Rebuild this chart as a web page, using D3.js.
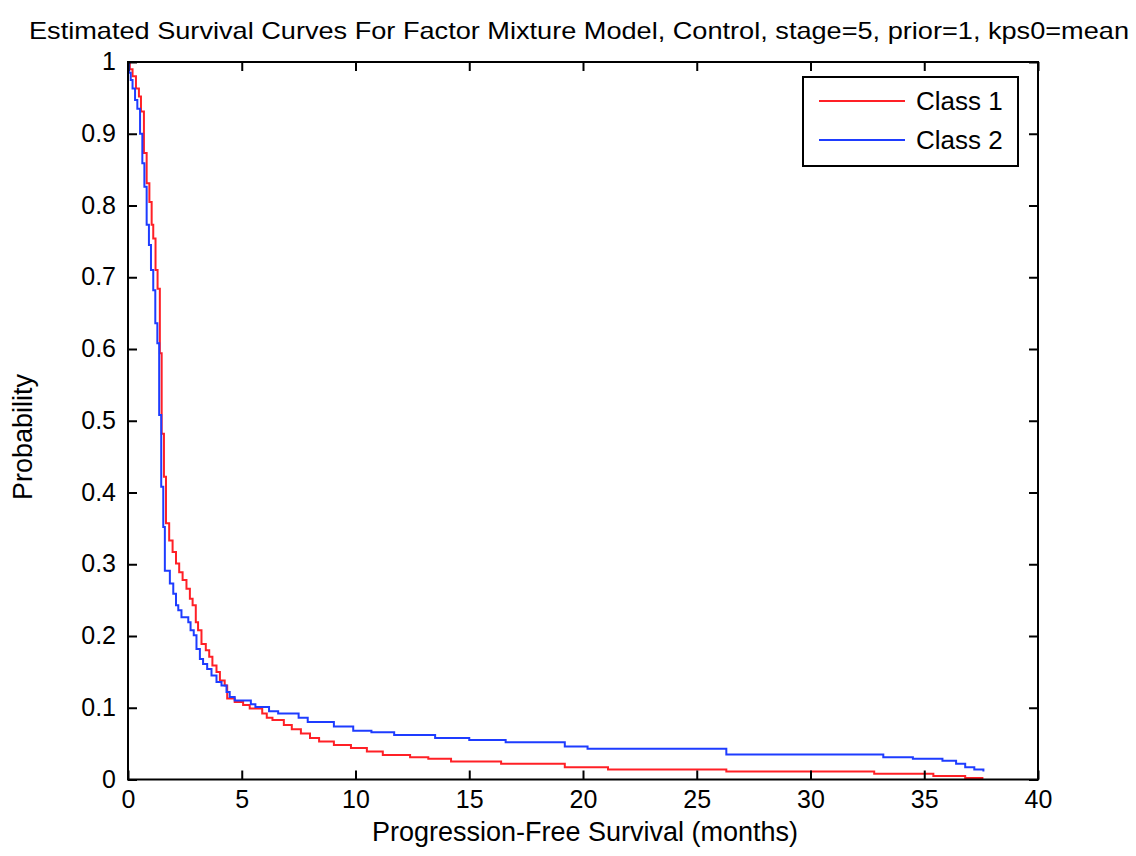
<!DOCTYPE html>
<html>
<head>
<meta charset="utf-8">
<script src="https://cdn.jsdelivr.net/npm/d3@7"></script>
<style>
  body { margin: 0; background: #fff; }
  text { font-family: "Liberation Sans", Arial, sans-serif; fill: #000; }
</style>
</head>
<body>
<script>
// data (months, probability)
var class1 = [
  [0,1],[0.08,0.99],[0.2,0.98],[0.35,0.963],[0.48,0.952],[0.57,0.931],[0.70,0.873],
  [0.82,0.831],[0.94,0.805],[1.04,0.773],[1.11,0.754],[1.21,0.71],[1.30,0.684],
  [1.40,0.594],[1.48,0.482],[1.58,0.422],[1.67,0.357],[1.81,0.333],[1.96,0.317],
  [2.11,0.301],[2.25,0.289],[2.40,0.278],[2.57,0.266],[2.72,0.252],[2.84,0.243],
  [2.98,0.219],[3.08,0.208],[3.23,0.189],[3.42,0.18],[3.57,0.171],[3.71,0.159],
  [3.89,0.15],[4.04,0.138],[4.25,0.131],[4.36,0.113],[4.69,0.108],[5.06,0.104],
  [5.35,0.099],[5.9,0.092],[6.1,0.086],[6.35,0.083],[6.85,0.076],[7.2,0.07],
  [7.6,0.064],[8.0,0.058],[8.4,0.053],[9.05,0.048],[9.8,0.044],[10.5,0.039],
  [11.2,0.034],[12.4,0.031],[13.2,0.029],[14.2,0.025],[16.4,0.022],[19.2,0.017],
  [21.1,0.014],[26.3,0.011],[32.8,0.008],[35.4,0.005],[36.8,0.002],[37.6,0.002]
];
var class2 = [
  [0,1],[0.05,0.985],[0.12,0.975],[0.2,0.963],[0.31,0.947],[0.41,0.935],[0.53,0.90],
  [0.63,0.859],[0.72,0.826],[0.82,0.773],[0.92,0.745],[1.01,0.71],[1.11,0.682],
  [1.20,0.636],[1.29,0.608],[1.37,0.508],[1.46,0.408],[1.55,0.352],[1.62,0.291],
  [1.84,0.273],[1.99,0.259],[2.11,0.243],[2.21,0.236],[2.35,0.226],[2.65,0.219],
  [2.75,0.208],[2.89,0.201],[3.01,0.182],[3.16,0.168],[3.30,0.161],[3.48,0.154],
  [3.67,0.145],[3.89,0.136],[4.11,0.131],[4.33,0.122],[4.47,0.115],[4.69,0.110],
  [5.4,0.105],[5.6,0.101],[6.2,0.095],[6.6,0.092],[7.5,0.086],[7.9,0.080],
  [9.05,0.074],[9.9,0.068],[10.7,0.066],[11.7,0.062],[13.5,0.058],[15.0,0.055],
  [16.6,0.052],[19.2,0.046],[20.2,0.043],[26.3,0.035],[33.2,0.031],[34.5,0.029],
  [35.8,0.026],[36.4,0.022],[36.8,0.017],[37.2,0.014],[37.6,0.011]
];
var seriesNames = ["Class 1", "Class 2"];
var xTicks = [0, 5, 10, 15, 20, 25, 30, 35, 40];
var yTicks = [0, 0.1, 0.2, 0.3, 0.4, 0.5, 0.6, 0.7, 0.8, 0.9, 1];
var titleText = "Estimated Survival Curves For Factor Mixture Model, Control, stage=5, prior=1, kps0=mean";

// layout
var outWidth = 1136, outHeight = 856;
var margin = {top: 62, right: 98, bottom: 76.5, left: 128},
    width = outWidth - margin.left - margin.right,
    height = outHeight - margin.top - margin.bottom;
var colors = ["#ff2026", "#1e3cff"];

var xScale = d3.scaleLinear().domain([0, 40]).range([0, width]);
var yScale = d3.scaleLinear().domain([0, 1]).range([height, 0]);

var svg = d3.select("body").append("svg")
    .attr("width", outWidth)
    .attr("height", outHeight);

svg.append("text")
    .attr("x", 579)
    .attr("y", 39)
    .attr("text-anchor", "middle")
    .attr("textLength", 1100)
    .attr("lengthAdjust", "spacingAndGlyphs")
    .style("font-size", "24px")
    .text(titleText);

var g = svg.append("g")
    .attr("transform", "translate(" + margin.left + "," + margin.top + ")");

// curves
var line = d3.line()
    .x(function(d) { return xScale(d[0]); })
    .y(function(d) { return yScale(d[1]); })
    .curve(d3.curveStepAfter);

[class1, class2].forEach(function(s, i) {
  g.append("path")
    .datum(s)
    .attr("fill", "none")
    .attr("stroke", colors[i])
    .attr("stroke-width", 2)
    .attr("d", line);
});

// axes, ticks pointing inward on all four sides
var fmt = d3.format(".1~f");
var xAxis = d3.axisBottom(xScale).tickValues(xTicks).tickSizeInner(-9).tickSizeOuter(0).tickPadding(11);
var yAxis = d3.axisLeft(yScale).tickValues(yTicks).tickFormat(fmt).tickSizeInner(-9).tickSizeOuter(0).tickPadding(12);
var xTop = d3.axisTop(xScale).tickValues(xTicks).tickFormat("").tickSizeInner(-9).tickSizeOuter(0);
var yRight = d3.axisRight(yScale).tickValues(yTicks).tickFormat("").tickSizeInner(-9).tickSizeOuter(0);

function styleAxis(sel) {
  sel.select(".domain").remove();
  sel.selectAll("line").attr("stroke", "#000").attr("stroke-width", 2);
  sel.selectAll("text").style("font-size", "25px").attr("fill", "#000");
}

g.append("g").attr("transform", "translate(0," + height + ")").call(xAxis).call(styleAxis)
  .selectAll("text").attr("dy", "0.71em");
g.append("g").call(yAxis).call(styleAxis)
  .selectAll("text").attr("dy", "0.3em");
g.append("g").call(xTop).call(styleAxis);
g.append("g").attr("transform", "translate(" + width + ",0)").call(yRight).call(styleAxis);

g.append("rect")
    .attr("width", width)
    .attr("height", height)
    .attr("fill", "none")
    .attr("stroke", "#000")
    .attr("stroke-width", 2);

// axis titles
svg.append("text")
    .attr("x", 585)
    .attr("y", 841)
    .attr("text-anchor", "middle")
    .style("font-size", "27px")
    .text("Progression-Free Survival (months)");

svg.append("text")
    .attr("transform", "translate(32,437) rotate(-90)")
    .attr("text-anchor", "middle")
    .style("font-size", "27px")
    .text("Probability");

// legend
var legend = svg.append("g").attr("transform", "translate(803,77)");
legend.append("rect")
    .attr("width", 215)
    .attr("height", 89)
    .attr("fill", "#fff")
    .attr("stroke", "#000")
    .attr("stroke-width", 2);
var items = legend.selectAll(".item")
    .data(seriesNames)
  .enter().append("g")
    .attr("class", "item")
    .attr("transform", function(d, i) { return "translate(0," + (24 + i * 39) + ")"; });
items.append("line")
    .attr("x1", 16).attr("x2", 102)
    .attr("stroke", function(d, i) { return colors[i]; })
    .attr("stroke-width", 2);
items.append("text")
    .attr("x", 113)
    .attr("y", 9)
    .style("font-size", "26px")
    .text(function(d) { return d; });
</script>
</body>
</html>
